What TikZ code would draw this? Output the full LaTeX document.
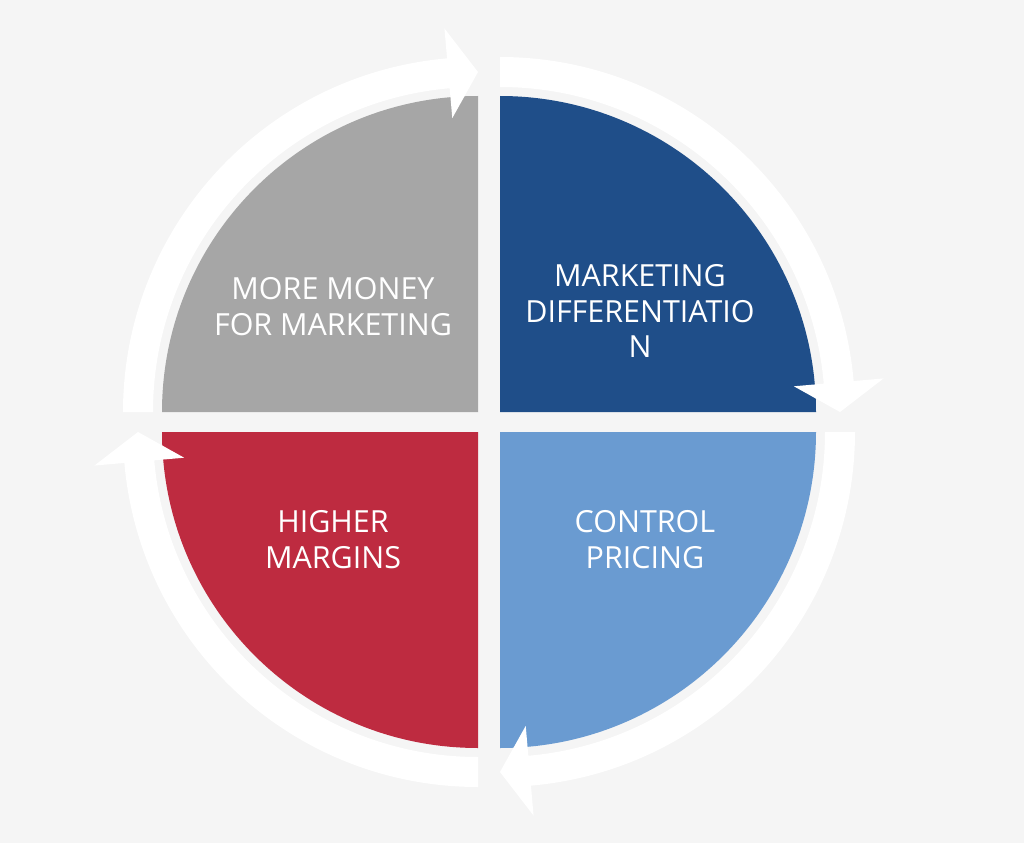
\documentclass[tikz,border=0pt]{standalone}
\usepackage{fontspec}
\setmainfont{Open Sans}
\usepackage{tikz}
\definecolor{bgcol}{HTML}{F5F5F5}
\definecolor{graysec}{HTML}{A6A6A6}
\definecolor{bluesec}{HTML}{1F4E89}
\definecolor{lightsec}{HTML}{6A9BD1}
\definecolor{redsec}{HTML}{BE2B40}
% quarter sector: corner x, corner y, start angle, colour
\newcommand{\quadr}[4]{ \fill[#4] (#1,#2) -- ++(#3:316) arc (#3:#3+90:316) -- cycle;}
% white cycle arrow: corner x, corner y, start angle
\newcommand{\cyclearrow}[3]{ \fill[white] (#1,#2) ++(#3:325) arc (#3:#3+85:325) -- ($(#1,#2)+(#3+85:295)$) -- ($(#1,#2)+(#3+90:340)$) -- ($(#1,#2)+(#3+85:385)$) -- ($(#1,#2)+(#3+85:355)$) arc (#3+85:#3:355) -- cycle;}
\usetikzlibrary{calc}
\tikzset{lbl/.style={text=white, align=center, font=\fontsize{26}{30.6}\selectfont}}
\begin{document}
\begin{tikzpicture}[x=0.03cm,y=-0.03cm]

        \fill[bgcol] (0,0) rectangle (1024,843);
        \useasboundingbox (0,0) rectangle (1024,843);

        % sectors
        \quadr{478}{412}{180}{graysec}
        \quadr{500}{412}{270}{bluesec}
        \quadr{500}{432}{0}{lightsec}
        \quadr{478}{432}{90}{redsec}

        % arrows
        \cyclearrow{478}{412}{180}
        \cyclearrow{500}{412}{270}
        \cyclearrow{500}{432}{0}
        \cyclearrow{478}{432}{90}

        % labels
        \node[lbl] (money) at (333,307) {MORE MONEY\\FOR MARKETING};
        \node[lbl] (diff) at (640,311) {MARKETING\\DIFFERENTIATIO\\N};
        \node[lbl] (pricing) at (645,540) {CONTROL\\PRICING};
        \node[lbl] (margins) at (333,540) {HIGHER\\MARGINS};

\end{tikzpicture}
\end{document}
